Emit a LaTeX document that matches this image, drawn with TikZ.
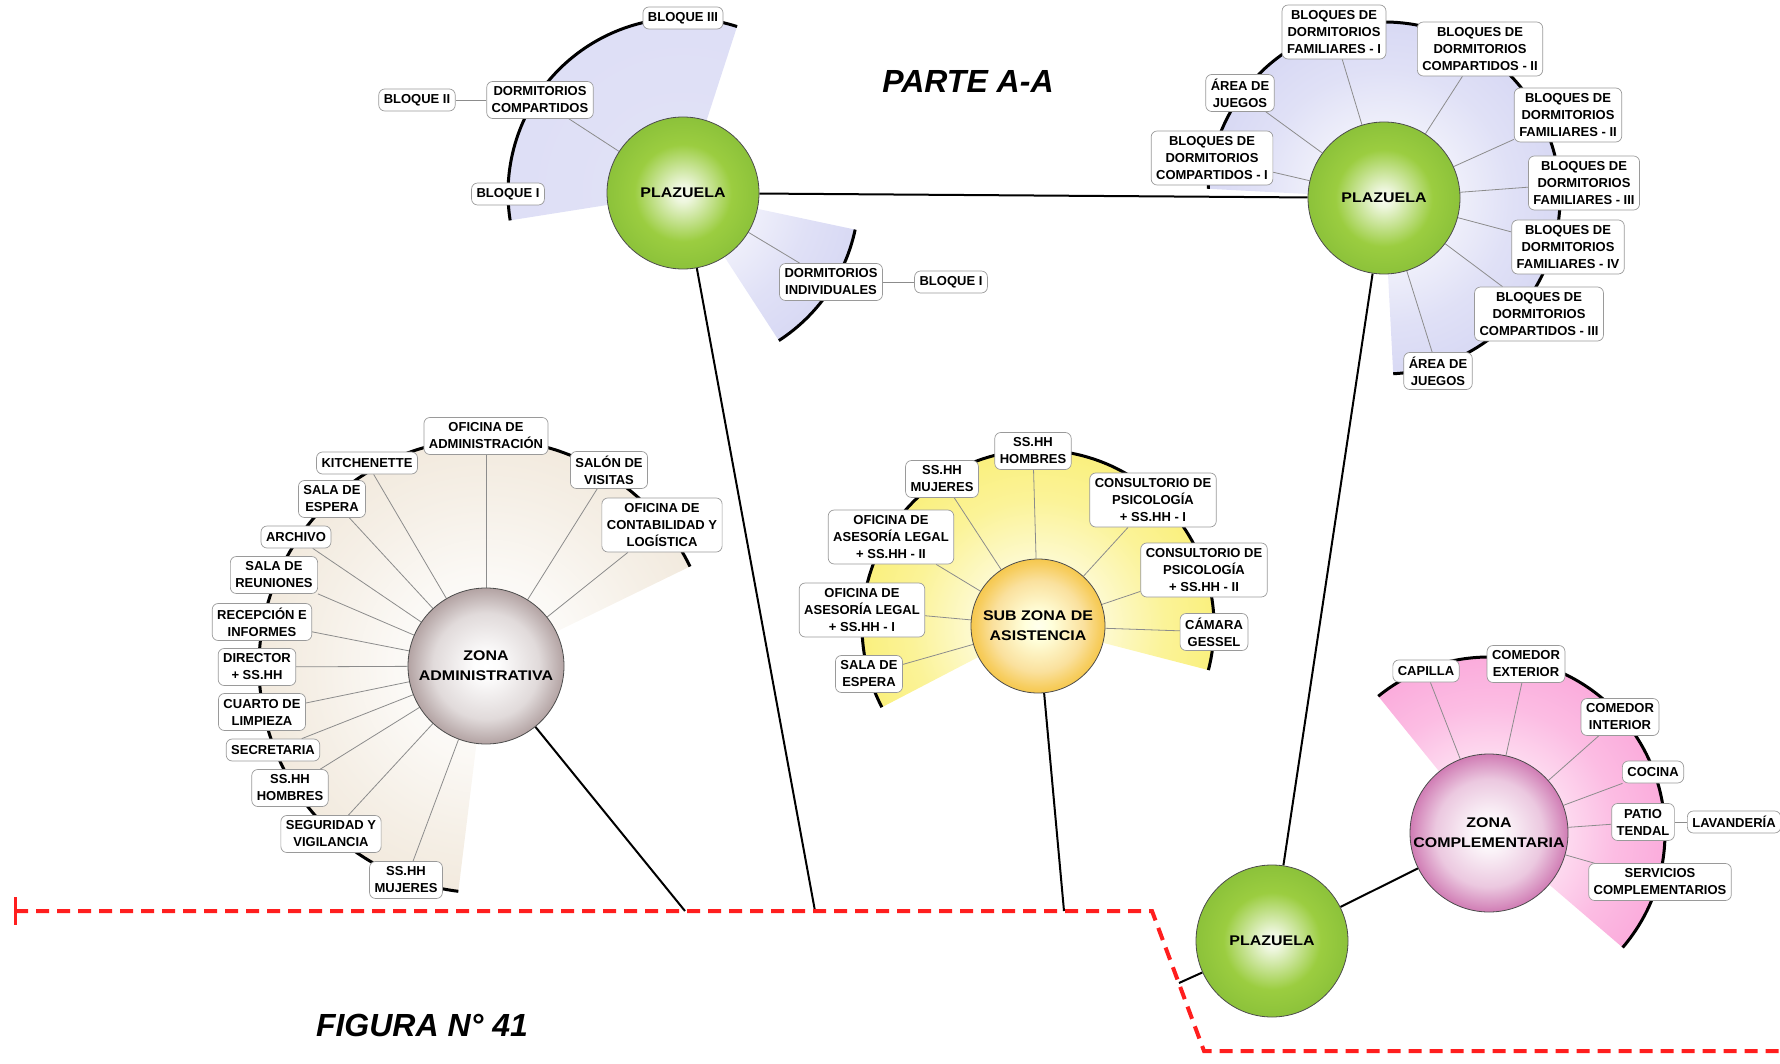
\documentclass[tikz,border=0pt]{standalone}
\usepackage{fontspec}
\setmainfont{Liberation Sans}
\newfontfamily\ballfont[FakeStretch=1.14]{Liberation Sans}

\definecolor{grn}{HTML}{9BCD40}
\definecolor{grndk}{HTML}{8CC23A}
\definecolor{admc}{HTML}{B3A3A3}
\definecolor{sunc}{HTML}{F6C84E}
\definecolor{pinkc}{HTML}{D07CB4}
\definecolor{lavf}{HTML}{D8D9F4}
\definecolor{beigef}{HTML}{F2EADE}
\definecolor{yelf}{HTML}{FAF07E}
\definecolor{pinkf}{HTML}{FBACDC}
\definecolor{dashred}{HTML}{FF1E1E}
\definecolor{boxline}{HTML}{9A9A9A}
\definecolor{linkgray}{HTML}{8C8C8C}

\pgfdeclareradialshading{shgrn}{\pgfpoint{0bp}{0bp}}{color(0bp)=(white!94!grn); color(3bp)=(white!82!grn); color(16bp)=(grn); color(25bp)=(grndk); color(50bp)=(grndk)}
\pgfdeclareradialshading{shadm}{\pgfpoint{0bp}{0bp}}{color(0bp)=(white); color(4bp)=(white!97!admc); color(17bp)=(admc!40!white); color(23bp)=(admc!85!white); color(25bp)=(admc); color(50bp)=(admc)}
\pgfdeclareradialshading{shsun}{\pgfpoint{0bp}{0bp}}{color(0bp)=(white!93!yellow); color(5bp)=(white!86!yellow); color(17bp)=(sunc!55!white); color(23bp)=(sunc!90!white); color(25bp)=(sunc); color(50bp)=(sunc)}
\pgfdeclareradialshading{shpink}{\pgfpoint{0bp}{0bp}}{color(0bp)=(white); color(4bp)=(white!96!pinkc); color(17bp)=(pinkc!42!white); color(23bp)=(pinkc!85!white); color(25bp)=(pinkc); color(50bp)=(pinkc)}
\pgfdeclareradialshading{fnlav}{\pgfpoint{0bp}{0bp}}{color(0bp)=(white); color(9bp)=(lavf!35!white); color(18bp)=(lavf!80!white); color(25bp)=(lavf); color(50bp)=(lavf)}
\pgfdeclareradialshading{fnlavflat}{\pgfpoint{0bp}{0bp}}{color(0bp)=(lavf!75!white); color(25bp)=(lavf!85!white); color(50bp)=(lavf!85!white)}
\pgfdeclareradialshading{fnbeige}{\pgfpoint{0bp}{0bp}}{color(0bp)=(white); color(10bp)=(beigef!30!white); color(19bp)=(beigef!75!white); color(25bp)=(beigef); color(50bp)=(beigef)}
\pgfdeclareradialshading{fnyel}{\pgfpoint{0bp}{0bp}}{color(0bp)=(white); color(9bp)=(yelf!35!white); color(18bp)=(yelf!80!white); color(25bp)=(yelf); color(50bp)=(yelf)}
\pgfdeclareradialshading{fnpink}{\pgfpoint{0bp}{0bp}}{color(0bp)=(white); color(9bp)=(pinkf!35!white); color(18bp)=(pinkf!80!white); color(25bp)=(pinkf); color(50bp)=(pinkf)}

\pgfdeclarelayer{fanlayer}
\pgfdeclarelayer{linklayer}
\pgfsetlayers{fanlayer,linklayer,main}

\newcommand\myfan[5]{%
  \begin{scope}
    \clip (#1.center) -- ++(#2:#4) arc[start angle=#2, end angle=#3, radius=#4] -- cycle;
    \shade[shading=#5] (#1.center) circle[radius=#4];
  \end{scope}
  \draw[fanarc] (#1.center) ++(#2:#4) arc[start angle=#2, end angle=#3, radius=#4];
}

\tikzset{
  ball/.style={circle, draw=black!70, line width=0.8pt, inner sep=0pt, align=center,
    font=\ballfont\fontsize{14}{20}\selectfont\bfseries},
  lbox/.style={draw=boxline, fill=white, rounded corners=6pt, line width=0.7pt,
    inner xsep=5pt, inner ysep=2pt, align=center,
    font=\fontsize{13}{17}\selectfont\bfseries},
  oneline/.style={lbox, minimum height=22pt},
  twoline/.style={lbox, minimum height=37pt},
  threeline/.style={lbox, minimum height=54pt},
  zlink/.style={draw=black, line width=2pt},
  tlink/.style={draw=linkgray, line width=0.8pt},
  fanarc/.style={draw=black, line width=3pt},
  reddash/.style={draw=dashred, line width=4pt, dash pattern=on 13pt off 8pt},
  titlefont/.style={font=\fontsize{32}{38}\selectfont\bfseries\itshape}
}

\begin{document}
\begin{tikzpicture}[x=1pt, y=1pt]
\useasboundingbox (0,0) rectangle (1780,-1064);

% ---------- titles ----------
\node[titlefont] (tit1) at (968,-81) {PARTE A-A};
\node[titlefont] (tit2) at (422,-1025) {FIGURA N° 41};

% ---------- main circles ----------
\node[ball, minimum size=152pt, shading=shgrn] (P1) at (683,-193) {PLAZUELA};
\node[ball, minimum size=152pt, shading=shgrn] (P2) at (1384,-198) {PLAZUELA};
\node[ball, minimum size=152pt, shading=shgrn] (P3) at (1272,-941) {PLAZUELA};
\node[ball, minimum size=156pt, shading=shadm] (ZA) at (486,-666) {ZONA\\ADMINISTRATIVA};
\node[ball, minimum size=134pt, shading=shsun] (SZ) at (1038,-626) {SUB ZONA DE\\ASISTENCIA};
\node[ball, minimum size=158pt, shading=shpink] (ZC) at (1489,-833) {ZONA\\COMPLEMENTARIA};

% ---------- top plazuela ----------
\node[twoline] (tDC) at (540,-100) {DORMITORIOS\\COMPARTIDOS};
\node[oneline] (tB2) at (417,-100) {BLOQUE II};
\node[oneline] (tB3) at (683,-18) {BLOQUE III};
\node[oneline] (tB1) at (508,-194) {BLOQUE I};
\node[twoline] (tDI) at (831,-282) {DORMITORIOS\\INDIVIDUALES};
\node[oneline] (tBI) at (951,-282) {BLOQUE I};

% ---------- right plazuela ----------
\node[threeline] (rF1) at (1334,-32) {BLOQUES DE\\DORMITORIOS\\FAMILIARES - I};
\node[threeline] (rC2) at (1480,-49) {BLOQUES DE\\DORMITORIOS\\COMPARTIDOS - II};
\node[twoline] (rA1) at (1240,-93) {ÁREA DE\\JUEGOS};
\node[threeline] (rC1) at (1212,-158) {BLOQUES DE\\DORMITORIOS\\COMPARTIDOS - I};
\node[threeline] (rF2) at (1568,-115) {BLOQUES DE\\DORMITORIOS\\FAMILIARES - II};
\node[threeline] (rF3) at (1584,-183) {BLOQUES DE\\DORMITORIOS\\FAMILIARES - III};
\node[threeline] (rF4) at (1568,-247) {BLOQUES DE\\DORMITORIOS\\FAMILIARES - IV};
\node[threeline] (rC3) at (1539,-314) {BLOQUES DE\\DORMITORIOS\\COMPARTIDOS - III};
\node[twoline] (rA2) at (1438,-371) {ÁREA DE\\JUEGOS};

% ---------- zona administrativa ----------
\node[twoline] (aOA) at (486,-436) {OFICINA DE\\ADMINISTRACIÓN};
\node[oneline] (aKI) at (367,-463) {KITCHENETTE};
\node[twoline] (aSV) at (609,-470) {SALÓN DE\\VISITAS};
\node[twoline] (aSE) at (332,-499) {SALA DE\\ESPERA};
\node[threeline] (aOC) at (662,-525) {OFICINA DE\\CONTABILIDAD Y\\LOGÍSTICA};
\node[oneline] (aAR) at (296,-537) {ARCHIVO};
\node[twoline] (aSR) at (274,-575) {SALA DE\\REUNIONES};
\node[twoline] (aRI) at (262,-622) {RECEPCIÓN E\\INFORMES};
\node[twoline] (aDI) at (257,-667) {DIRECTOR\\+ SS.HH};
\node[twoline] (aCL) at (262,-712) {CUARTO DE\\LIMPIEZA};
\node[oneline] (aSC) at (273,-750) {SECRETARIA};
\node[twoline] (aHH) at (290,-788) {SS.HH\\HOMBRES};
\node[twoline] (aSG) at (331,-834) {SEGURIDAD Y\\VIGILANCIA};
\node[twoline] (aMJ) at (406,-880) {SS.HH\\MUJERES};

% ---------- sub zona de asistencia ----------
\node[twoline] (sHH) at (1033,-451) {SS.HH\\HOMBRES};
\node[twoline] (sMJ) at (942,-479) {SS.HH\\MUJERES};
\node[threeline] (sP1) at (1153,-500) {CONSULTORIO DE\\PSICOLOGÍA\\+ SS.HH - I};
\node[threeline] (sL2) at (891,-537) {OFICINA DE\\ASESORÍA LEGAL\\+ SS.HH - II};
\node[threeline] (sP2) at (1204,-570) {CONSULTORIO DE\\PSICOLOGÍA\\+ SS.HH - II};
\node[threeline] (sL1) at (862,-610) {OFICINA DE\\ASESORÍA LEGAL\\+ SS.HH - I};
\node[twoline] (sCG) at (1214,-632) {CÁMARA\\GESSEL};
\node[twoline] (sSE) at (869,-674) {SALA DE\\ESPERA};

% ---------- zona complementaria ----------
\node[oneline] (cCA) at (1426,-671) {CAPILLA};
\node[twoline] (cCE) at (1526,-664) {COMEDOR\\EXTERIOR};
\node[twoline] (cCI) at (1620,-717) {COMEDOR\\INTERIOR};
\node[oneline] (cCO) at (1653,-772) {COCINA};
\node[twoline] (cPT) at (1643,-822) {PATIO\\TENDAL};
\node[oneline] (cLA) at (1734,-822) {LAVANDERÍA};
\node[twoline] (cSC) at (1660,-882) {SERVICIOS\\COMPLEMENTARIOS};

% ---------- dashed boundary ----------
\coordinate (d0) at (15,-911);
\coordinate (d1) at (1152,-911);
\coordinate (d2) at (1204,-1051);
\coordinate (d3) at (1780,-1051);
\coordinate (tk1) at (15,-897);
\coordinate (tk2) at (15,-925);
\coordinate (j1) at (685,-911);
\coordinate (j2) at (815,-911);
\coordinate (j3) at (1064,-911);
\coordinate (j4) at (1179,-983);
\draw[reddash] (d0) -- (d1) -- (d2) -- (d3);
\draw[draw=dashred, line width=3pt] (tk1) -- (tk2);

% ---------- fans ----------
\begin{pgfonlayer}{fanlayer}
  \myfan{P1}{72}{189}{175}{fnlavflat}
  \myfan{P1}{-57}{-12}{176}{fnlav}
  \myfan{P2}{-87}{177}{176}{fnlav}
  \myfan{ZA}{26}{263}{227}{fnbeige}
  \myfan{SZ}{-14.5}{207.5}{176}{fnyel}
  \myfan{ZC}{-40.6}{129}{176}{fnpink}
\end{pgfonlayer}

% ---------- links ----------
\begin{pgfonlayer}{linklayer}
  \draw[zlink] (P1) -- (P2);
  \draw[zlink] (P1) -- (j2);
  \draw[zlink] (P2) -- (P3);
  \draw[zlink] (P3) -- (ZC);
  \draw[zlink] (P3) -- (j4);
  \draw[zlink] (ZA) -- (j1);
  \draw[zlink] (SZ) -- (j3);

  \draw[tlink] (P1) -- (tDC);
  \draw[tlink] (tDC) -- (tB2);
  \draw[tlink] (P1) -- (tDI);
  \draw[tlink] (tDI) -- (tBI);

  \foreach \n in {rF1,rC2,rA1,rC1,rF2,rF3,rF4,rC3,rA2}
    \draw[tlink] (P2) -- (\n);
  \foreach \n in {aOA,aKI,aSV,aSE,aOC,aAR,aSR,aRI,aDI,aCL,aSC,aHH,aSG,aMJ}
    \draw[tlink] (ZA) -- (\n);
  \foreach \n in {sHH,sMJ,sP1,sL2,sP2,sL1,sCG,sSE}
    \draw[tlink] (SZ) -- (\n);
  \foreach \n in {cCA,cCE,cCI,cCO,cPT,cSC}
    \draw[tlink] (ZC) -- (\n);
  \draw[tlink] (cPT) -- (cLA);
\end{pgfonlayer}
\end{tikzpicture}
\end{document}
